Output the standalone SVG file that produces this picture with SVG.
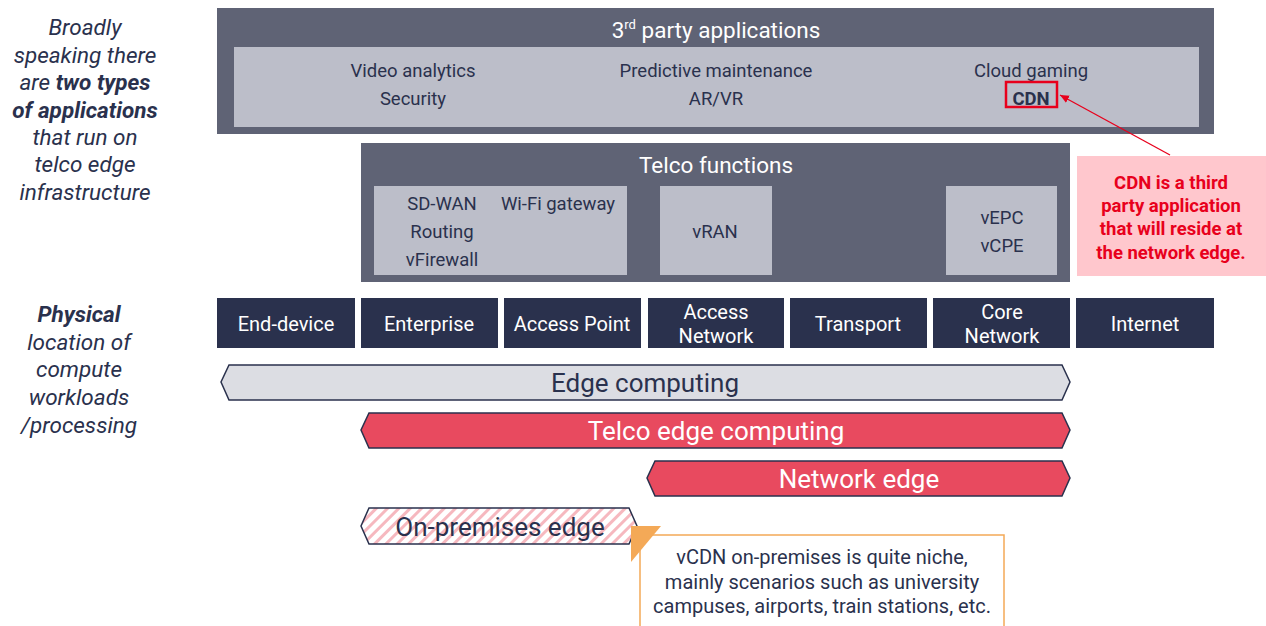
<svg xmlns="http://www.w3.org/2000/svg" width="1266" height="626" viewBox="0 0 1266 626">
<defs>
<style>
text{font-family:Roboto,"Liberation Sans",sans-serif;}
.dk{fill:#5f6375;}
.lt{fill:#bcbec9;}
.t{fill:#2a314d;font-size:18.5px;text-anchor:middle;}
.w{fill:#ffffff;text-anchor:middle;}
.loc{fill:#2a314d;}
.lbl{fill:#2a314d;font-size:22.5px;font-style:italic;text-anchor:middle;}
.b{font-weight:bold;}
.arr{stroke:#2a314d;stroke-width:1.5;}
.big{font-size:26px;text-anchor:middle;}
.red{fill:#e8001c;font-size:18.5px;font-weight:bold;text-anchor:middle;}
.note{fill:#2a314d;font-size:20px;text-anchor:middle;}
</style>
<pattern id="hatch" patternUnits="userSpaceOnUse" width="8" height="8" patternTransform="rotate(45)">
<rect width="8" height="8" fill="#ffffff"/>
<rect width="3" height="8" fill="#f6b8bf"/>
</pattern>
<marker id="ah" markerWidth="10" markerHeight="10" refX="9" refY="5" orient="auto" markerUnits="userSpaceOnUse">
<path d="M0,1 L9,5 L0,9 z" fill="#e8001c"/>
</marker>
</defs>
<rect width="1266" height="626" fill="#ffffff"/>

<g id="left-labels">
<text class="lbl" x="85" y="35">Broadly</text>
<text class="lbl" x="85" y="63">speaking there</text>
<text class="lbl" x="85" y="90">are <tspan class="b">two types</tspan></text>
<text class="lbl b" x="85" y="118">of applications</text>
<text class="lbl" x="85" y="145">that run on</text>
<text class="lbl" x="85" y="172">telco edge</text>
<text class="lbl" x="85" y="200">infrastructure</text>
<text class="lbl b" x="79" y="322">Physical</text>
<text class="lbl" x="79" y="350">location of</text>
<text class="lbl" x="79" y="377">compute</text>
<text class="lbl" x="79" y="405">workloads</text>
<text class="lbl" x="79" y="433">/processing</text>
</g>

<g id="third-party">
<rect class="dk" x="217" y="8" width="997" height="126"/>
<rect class="lt" x="234" y="47" width="965" height="80"/>
<text class="w" x="716" y="38" font-size="22.5">3<tspan font-size="13" dy="-9">rd</tspan><tspan dy="9"> party applications</tspan></text>
<text class="t" x="413" y="77">Video analytics</text>
<text class="t" x="413" y="105">Security</text>
<text class="t" x="716" y="77">Predictive maintenance</text>
<text class="t" x="716" y="105">AR/VR</text>
<text class="t" x="1031" y="77">Cloud gaming</text>
<text class="t b" x="1031" y="105">CDN</text>
<rect x="1006" y="82" width="51" height="25" fill="none" stroke="#e8001c" stroke-width="2.5"/>
</g>

<g id="telco-functions">
<rect class="dk" x="361" y="143" width="709" height="139"/>
<text class="w" x="716" y="173" font-size="22.5">Telco functions</text>
<rect class="lt" x="374" y="186" width="253" height="89"/>
<rect class="lt" x="660" y="186" width="112" height="89"/>
<rect class="lt" x="946" y="186" width="111" height="89"/>
<text class="t" x="442" y="210">SD-WAN</text>
<text class="t" x="558" y="210">Wi-Fi gateway</text>
<text class="t" x="442" y="238">Routing</text>
<text class="t" x="442" y="266">vFirewall</text>
<text class="t" x="715" y="238">vRAN</text>
<text class="t" x="1002" y="224">vEPC</text>
<text class="t" x="1002" y="252">vCPE</text>
</g>

<g id="cdn-callout">
<rect x="1077" y="156" width="189" height="120" fill="#ffc7cd"/>
<text class="red" x="1171" y="189">CDN is a third</text>
<text class="red" x="1171" y="212">party application</text>
<text class="red" x="1171" y="235">that will reside at</text>
<text class="red" x="1171" y="259">the network edge.</text>
</g>

<g id="connectors">
<line x1="1170" y1="155" x2="1060" y2="95" stroke="#e8001c" stroke-width="1.3" marker-end="url(#ah)"/>
</g>

<g id="locations">
<rect class="loc" x="217" y="298" width="138" height="50"/>
<rect class="loc" x="361" y="298" width="137" height="50"/>
<rect class="loc" x="504" y="298" width="137" height="50"/>
<rect class="loc" x="648" y="298" width="136" height="50"/>
<rect class="loc" x="790" y="298" width="137" height="50"/>
<rect class="loc" x="933" y="298" width="137" height="50"/>
<rect class="loc" x="1076" y="298" width="138" height="50"/>
<text class="w" x="286" y="331" font-size="20">End-device</text>
<text class="w" x="429" y="331" font-size="20">Enterprise</text>
<text class="w" x="572" y="331" font-size="20">Access Point</text>
<text class="w" x="716" y="319" font-size="20">Access</text>
<text class="w" x="716" y="343" font-size="20">Network</text>
<text class="w" x="858" y="331" font-size="20">Transport</text>
<text class="w" x="1002" y="319" font-size="20">Core</text>
<text class="w" x="1002" y="343" font-size="20">Network</text>
<text class="w" x="1145" y="331" font-size="20">Internet</text>
</g>

<g id="edge-computing">
<polygon class="arr" points="229,365 1062,365 1070,382 1062,400 229,400 221,382" fill="#dcdde3"/>
<text class="big" x="645" y="392" fill="#2a314d">Edge computing</text>
</g>
<g id="telco-edge">
<polygon class="arr" points="369,413 1062,413 1070,430 1062,448 369,448 361,430" fill="#e84a5f"/>
<text class="big" x="716" y="440" fill="#ffffff">Telco edge computing</text>
</g>
<g id="network-edge">
<polygon class="arr" points="655,461 1062,461 1070,478 1062,496 655,496 647,478" fill="#e84a5f"/>
<text class="big" x="859" y="488" fill="#ffffff">Network edge</text>
</g>
<g id="on-premises">
<polygon class="arr" points="369,508 629,508 637,526 629,544 369,544 361,526" fill="url(#hatch)"/>
<text class="big" x="500" y="536" fill="#2a314d">On-premises edge</text>
</g>

<g id="vcdn-callout">
<rect x="640" y="535" width="364" height="100" fill="#ffffff" stroke="#f4a957" stroke-width="1.5"/>
<polygon points="631,526 661,526 631,562" fill="#f4a957"/>
<text class="note" x="822" y="564">vCDN on-premises is quite niche,</text>
<text class="note" x="822" y="589">mainly scenarios such as university</text>
<text class="note" x="822" y="613">campuses, airports, train stations, etc.</text>
</g>
</svg>
